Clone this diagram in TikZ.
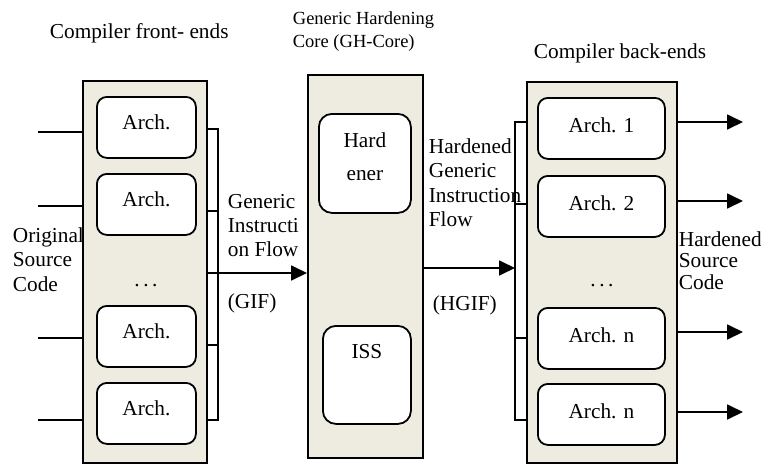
\documentclass[tikz,border=0pt]{standalone}
\usepackage{fontspec}
\setmainfont{Liberation Serif}
\usepackage{xcolor}
\usetikzlibrary{arrows.meta,positioning}
\definecolor{panelbeige}{RGB}{238,236,225}

\tikzset{
  panel/.style={draw,fill=panelbeige,line width=1.8pt,inner sep=0pt,anchor=north west},
  archbox/.style={draw,fill=white,line width=1.8pt,rounded corners=10pt,minimum height=61pt,
    inner sep=0pt,anchor=north west,text height=14.5pt,font=\fontsize{21.3}{24.5}\selectfont},
  corebox/.style={draw,fill=white,line width=1.8pt,rounded corners=13pt,inner sep=0pt,anchor=north west},
  txt/.style={inner sep=0pt,align=left,font=\fontsize{21.3}{24.5}\selectfont},
}

\begin{document}
\begin{tikzpicture}[x=1pt,y=-1pt,>={Triangle[length=16pt,width=15pt]},line width=1.8pt]
  \useasboundingbox (0,0) rectangle (761,464);

  % the three panels
  \node[panel,minimum width=124pt,minimum height=382pt] (fe) at (82,80) {};
  \node[panel,minimum width=115pt,minimum height=383pt] (core) at (307,74) {};
  \node[panel,minimum width=150pt,minimum height=381pt] (be) at (526,81) {};

  % front-end boxes
  \foreach \n/\y in {1/96,2/173,3/305,4/382}
    \node[archbox,minimum width=99pt,text depth=9.5pt] (fa\n) at (96,\y) {Arch.};
  \node[txt,anchor=base] (fedots) at (146,286) {.\,.\,.};

  % back-end boxes
  \foreach \n/\y/\t in {1/97/Arch. 1,2/175/Arch. 2,3/307/Arch. n,4/383/Arch. n}
    \node[archbox,minimum width=127pt,text depth=5.5pt] (ba\n) at (537,\y) {\t};
  \node[txt,anchor=base] (bedots) at (602,286) {.\,.\,.};

  % hardening core
  \node[corebox,minimum width=92pt,minimum height=99pt] (hard) at (318,113) {};
  \node[txt,align=center,font=\fontsize{21.3}{33}\selectfont,below=19pt of hard.north] (hardtxt) {Hard\\ener};
  \node[corebox,minimum width=88pt,minimum height=98pt] (iss) at (322,325) {};
  \node[txt,below=18pt of iss.north] (isstxt) {ISS};

  % titles
  \node[txt,anchor=base west] (fetitle) at (49,38) {Compiler front- ends};
  \node[txt,anchor=north west,font=\fontsize{18.5}{23}\selectfont] (coretitle) at (292,10.5)
    {Generic Hardening\\Core (GH-Core)};
  \node[txt,anchor=base west] (betitle) at (533,58) {Compiler back-ends};

  % flow labels
  \node[txt,anchor=north west] (src) at (12,226.5) {Original\\Source\\Code};
  \node[txt,anchor=north west,font=\fontsize{21.3}{24}\selectfont] (gif) at (227,193.5) {Generic\\Instructi\\on Flow};
  \node[txt,anchor=base west] (giftag) at (227,308) {(GIF)};
  \node[txt,anchor=north west] (hgif) at (428,137.5) {Hardened\\Generic\\Instruction\\Flow};
  \node[txt,anchor=base west] (hgiftag) at (432,310) {(HGIF)};
  \node[txt,anchor=north west,font=\fontsize{21.3}{21.5}\selectfont] (out) at (678,230.5) {Hardened\\Source\\Code};

  % source code going in
  \foreach \i/\y in {1/132,2/206,3/338,4/420} {
    \coordinate (in\i) at (38,\y);
    \draw (in\i) -- (fe.west |- in\i);
  }

  % GIF collector
  \coordinate (gtop) at (218,129);
  \coordinate (gbot) at (218,420);
  \coordinate (garr) at (218,273);
  \draw (fe.east |- gtop) -- (gtop) -- (gbot) -- (fe.east |- gbot);
  \foreach \y in {211,345}
    \draw (fe.east |- 0,\y) -- (218,\y);
  \draw[->] (fe.east |- garr) -- (core.west |- garr);

  % HGIF distributor
  \coordinate (htop) at (515,122);
  \coordinate (hbot) at (515,420);
  \coordinate (harr) at (515,268);
  \draw (be.west |- htop) -- (htop) -- (hbot) -- (be.west |- hbot);
  \foreach \y in {204,338}
    \draw (be.west |- 0,\y) -- (515,\y);
  \draw[->] (core.east |- harr) -- (harr);

  % hardened code going out
  \foreach \i/\y in {1/122,2/201,3/332,4/412} {
    \coordinate (out\i) at (743,\y);
    \draw[->] (be.east |- out\i) -- (out\i);
  }
\end{tikzpicture}
\end{document}
